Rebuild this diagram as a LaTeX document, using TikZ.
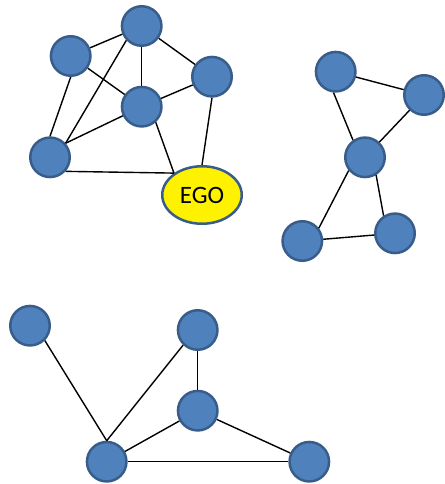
\documentclass[tikz,border=0pt]{standalone}
\usepackage{fontspec}
\setmainfont{Carlito}
\usetikzlibrary{arrows,shapes.geometric}
\definecolor{nodeblue}{HTML}{4F81BD}
\definecolor{nodeline}{HTML}{385D8A}
\tikzset{
    %Define style for plain nodes
    vertex/.style={
           circle,
           draw=nodeline, line width=2.5pt,
           fill=nodeblue,
           minimum size=39.5pt,
           inner sep=0pt},
    %Define style for the ego node
    ego/.style={
           ellipse,
           draw=nodeline, line width=2.5pt,
           fill=yellow,
           minimum width=79.5pt,
           minimum height=57.5pt,
           inner sep=0pt,
           font=\fontsize{25pt}{28pt}\selectfont},
    % Define link style
    link/.style={
           draw=black,
           line width=1.4pt}
}
\begin{document}
\begin{tikzpicture}[x=1pt,y=-1pt]
\useasboundingbox (0,0) rectangle (444,484);
% first group, around the ego
\node[vertex](1) at (141.7,26){};
\node[vertex](2) at (70.7,56){};
\node[vertex](3) at (212,76.7){};
\node[vertex](4) at (141.7,106.7){};
\node[vertex](5) at (50,157.3){};
\node[ego](6) at (202,195){EGO};
% second group
\node[vertex](7) at (335.7,71.7){};
\node[vertex](8) at (424,95){};
\node[vertex](9) at (365,157.3){};
\node[vertex](10) at (302.3,241){};
\node[vertex](11) at (395,233.3){};
% third group
\node[vertex](12) at (30,325.7){};
\node[vertex](13) at (197.7,330){};
\node[vertex](14) at (197.7,410.7){};
\node[vertex](15) at (106.7,461.7){};
\node[vertex](16) at (309.3,461.7){};
 \path[link]
    (1) edge (2) edge (3) edge (4)
    (1.-137) edge (5.42)
    (2) edge (4)
    (2.south) edge (5.north)
    (4) edge (3)
    (4) edge (5.42)
    (4.-48) edge (6.142)
    (3.south) edge (6.north)
    (5.-42) edge (6.142)
    (7) edge (8)
    (7.-96) edge (9.125)
    (8) edge (9)
    (9.-141) edge (10.38)
    (9.-58) edge (11.123)
    (10) edge (11)
    (12.-45) edge (15.north)
    (13.-134) edge (15.north)
    (13) edge (14)
    (14) edge (15) edge (16)
    (15) edge (16);
\end{tikzpicture}
\end{document}
